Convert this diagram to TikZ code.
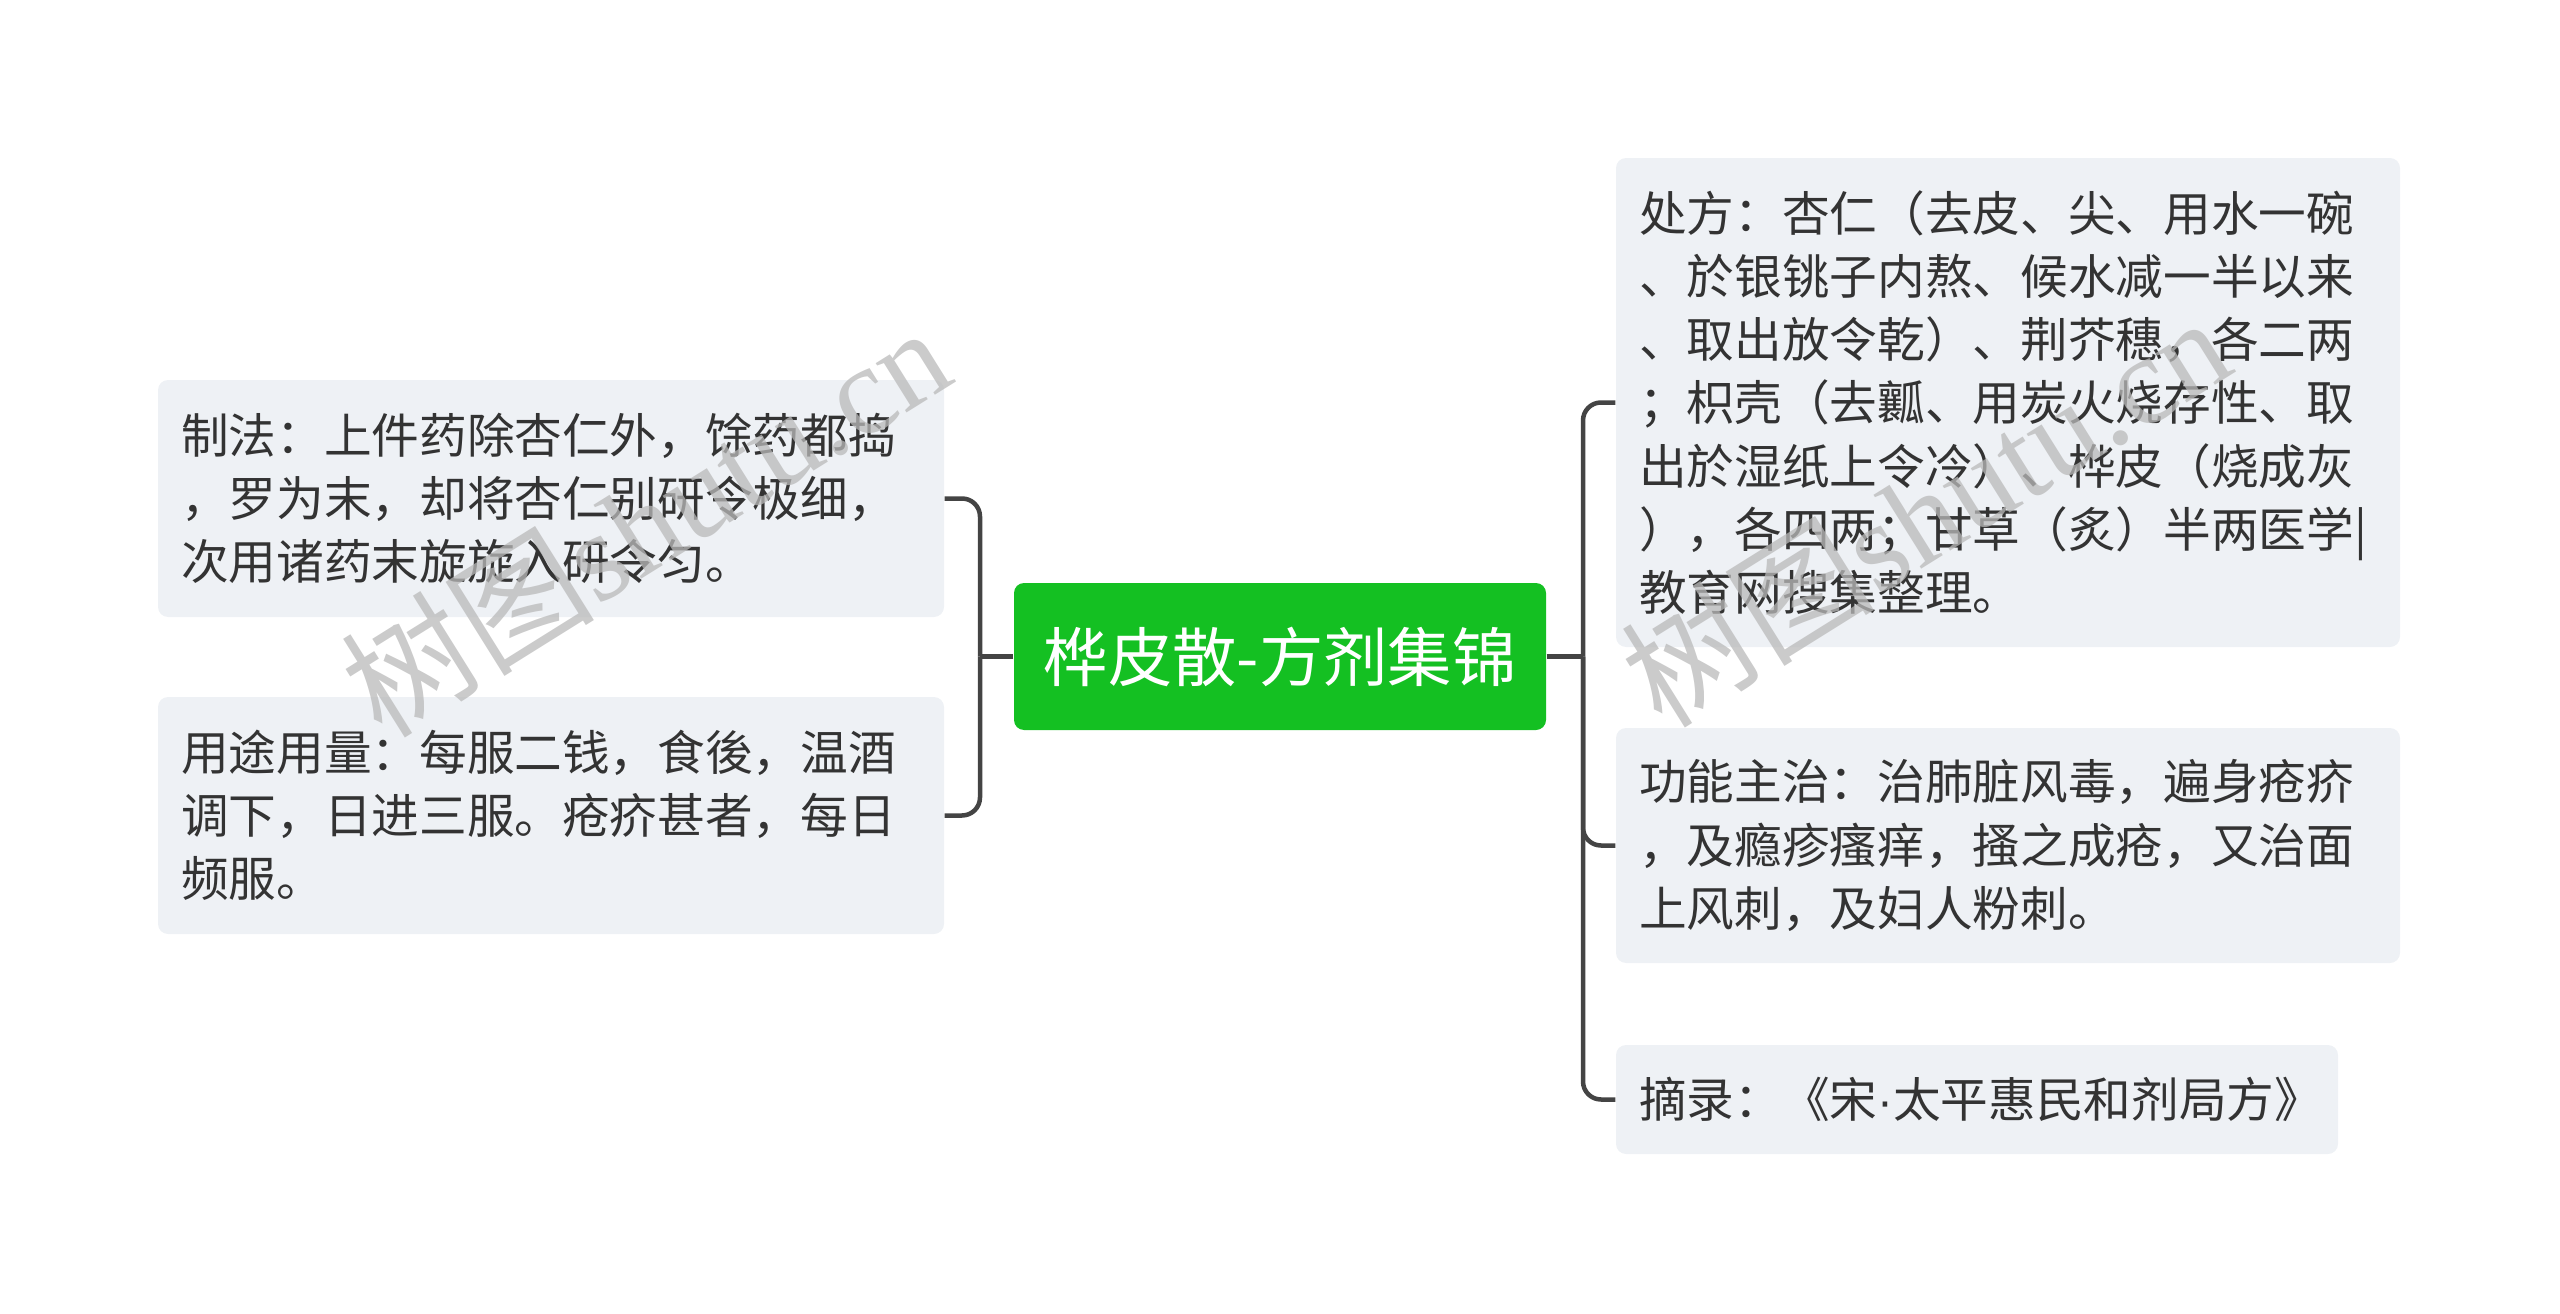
\documentclass[tikz,border=0pt]{standalone}
\usepackage{fontspec}
\setmainfont{Noto Sans CJK SC}
\newfontfamily\wmcjk{Noto Sans CJK SC}
\newfontfamily\wmlat{Liberation Serif}
\newfontfamily\dotfont{Liberation Sans}
\definecolor{boxgray}{RGB}{238,241,245}
\definecolor{rootgreen}{RGB}{20,192,34}
\definecolor{linegray}{RGB}{68,68,68}
\definecolor{textgray}{RGB}{51,51,51}
\definecolor{wmgray}{RGB}{185,185,185}
\begin{document}
\begin{tikzpicture}[x=0.3pt,y=-0.3pt,
  leaf/.style={fill=boxgray, rounded corners=3pt, inner xsep=6.9pt, inner ysep=0pt,
    align=left, text=textgray, anchor=center,
    font=\fontsize{14.3pt}{18.94pt}\selectfont},
  rootbox/.style={fill=rootgreen, rounded corners=3pt, text=white, inner sep=0pt,
    minimum width=159.6pt, minimum height=44.1pt,
    font=\fontsize{19.3pt}{23pt}\selectfont},
  conn/.style={draw=linegray, line width=1.35pt, rounded corners=5.4pt},
  wm/.style={text=wmgray, opacity=0.75, inner sep=0pt, rotate=32,
    font=\fontsize{38pt}{40pt}\selectfont}
]
\useasboundingbox (0,0) rectangle (2560,1314);

\node[rootbox] (C) at (1280,656.5) {桦皮散-方剂集锦};

\node[leaf, text width=222pt, minimum height=71.1pt] (L1) at (551,498.5)
 {制法：上件药除杏仁外，馀药都捣\\，罗为末，却将杏仁别研令极细，\\次用诸药末旋旋入研令匀。};
\node[leaf, text width=222pt, minimum height=71.1pt] (L2) at (551,815.5)
 {用途用量：每服二钱，食後，温酒\\调下，日进三服。疮疥甚者，每日\\频服。};

\node[leaf, text width=221.4pt, minimum height=146.7pt] (R1) at (2008,402.5)
 {处方：杏仁（去皮、尖、用水一碗\\、於银铫子内熬、候水减一半以来\\、取出放令乾）、荆芥穗，各二两\\；枳壳（去瓤、用炭火烧存性、取\\出於湿纸上令冷）、桦皮（烧成灰\\），各四两；甘草（炙）半两医学|\\教育网搜集整理。};
\node[leaf, text width=221.4pt, minimum height=70.5pt] (R2) at (2008,845.5)
 {功能主治：治肺脏风毒，遍身疮疥\\，及瘾疹瘙痒，搔之成疮，又治面\\上风刺，及妇人粉刺。};
\node[leaf, text width=202.8pt, minimum height=32.7pt] (R3) at (1977,1099.5)
 {摘录：《宋{\dotfont ·}太平惠民和剂局方》};

\coordinate (jl) at (980,656.5);
\coordinate (jr) at (1583,656.5);

\draw[conn] (C.west) -- (jl);
\draw[conn] (L1.east) -| (jl);
\draw[conn] (L2.east) -| (jl);
\draw[conn] (C.east) -- (jr);
\draw[conn] (R1.west) -| (jr);
\draw[conn] (R2.west) -| (jr);
\draw[conn] (R3.west) -| (jr);

\node[wm] (wm1) at (645,520) {{\wmcjk 树图}{\wmlat shutu.cn}};
\node[wm] (wm2) at (1925,510) {{\wmcjk 树图}{\wmlat shutu.cn}};
\end{tikzpicture}
\end{document}
